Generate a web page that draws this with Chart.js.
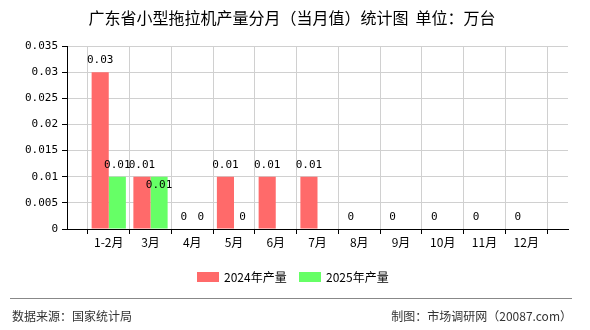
<!DOCTYPE html>
<html>
<head>
<meta charset="utf-8">
<script src="https://cdn.jsdelivr.net/npm/chart.js@4.4.0/dist/chart.umd.min.js"></script>
<style>
  body { margin: 0; background: #fff; }
  #wrap { width: 590px; height: 330px; }
</style>
</head>
<body>
<div id="wrap"><canvas id="myChart" width="590" height="330"></canvas></div>
<script>
// months, padded with an empty slot each side so ticks sit on gridlines
const months = ['', '1-2月', '3月', '4月', '5月', '6月', '7月', '8月', '9月', '10月', '11月', '12月', '']
const output2024 = [null, 0.03, 0.01, 0, 0.01, 0.01, 0.01, 0, 0, 0, 0, 0, null]
const output2025 = [null, 0.01, 0.01, 0, 0, null, null, null, null, null, null, null, null]
const yTicks = [0, 0.005, 0.01, 0.015, 0.02, 0.025, 0.03, 0.035]

const titleText = '广东省小型拖拉机产量分月（当月值）统计图  单位：万台'
const sourceText = '数据来源：国家统计局'
const makerText = '制图：市场调研网（20087.com）'

const cjk = '"Noto Sans CJK SC", sans-serif'
const tickFont = '"DejaVu Sans Mono", "Noto Sans CJK SC", monospace'

// title, value labels, legend and footer
const extras = {
  id: 'extras',
  afterDatasetsDraw(chart) {
    const ctx = chart.ctx
    ctx.save()
    ctx.font = '11px ' + tickFont
    ctx.fillStyle = '#000'
    ctx.textAlign = 'center'
    ctx.textBaseline = 'middle'
    let boxes = []
    chart.data.datasets.forEach((ds, di) => {
      const meta = chart.getDatasetMeta(di)
      meta.data.forEach((bar, i) => {
        const v = ds.data[i]
        if (v === null || v === undefined) return
        const txt = String(v)
        const w = ctx.measureText(txt).width
        let y = bar.y - 12
        const x = bar.x
        const hit = boxes.some(b => Math.abs(b.y - y) < 10 && Math.min(b.x + b.w / 2, x + w / 2) - Math.max(b.x - b.w / 2, x - w / 2) > 4)
        if (hit) y = bar.y + 8
        boxes.push({x: x, y: y, w: w})
        ctx.fillText(txt, x, y)
      })
    })
    ctx.restore()
  },
  afterDraw(chart) {
    const ctx = chart.ctx
    ctx.save()
    ctx.fillStyle = '#000'
    ctx.textBaseline = 'middle'
    ctx.textAlign = 'center'
    ctx.font = '16px ' + cjk
    ctx.fillText(titleText, 292, 18)

    // legend
    ctx.font = '12px ' + cjk
    ctx.textAlign = 'left'
    let lx = 197
    chart.data.datasets.forEach(ds => {
      ctx.fillStyle = ds.backgroundColor
      ctx.fillRect(lx, 272, 22, 10)
      ctx.fillStyle = '#000'
      ctx.fillText(ds.label, lx + 27, 277)
      lx += 102
    })

    // footer
    ctx.strokeStyle = '#888'
    ctx.lineWidth = 1
    ctx.beginPath()
    ctx.moveTo(10, 298.5)
    ctx.lineTo(572, 298.5)
    ctx.stroke()
    ctx.fillStyle = '#333'
    ctx.font = '12px ' + cjk
    ctx.textAlign = 'left'
    ctx.fillText(sourceText, 12, 316)
    ctx.textAlign = 'right'
    ctx.fillText(makerText, 572, 316)
    ctx.restore()
  }
}

const ctx = document.getElementById('myChart')
new Chart(ctx, {
  type: 'bar',
  data: {
    labels: months,
    datasets: [{
      label: '2024年产量',
      data: output2024,
      backgroundColor: '#ff6a6a',
      categoryPercentage: 0.82,
      barPercentage: 1
    },
    {
      label: '2025年产量',
      data: output2025,
      backgroundColor: '#66ff66',
      categoryPercentage: 0.82,
      barPercentage: 1
    }]
  },
  options: {
    responsive: false,
    animation: false,
    layout: { padding: { left: 0, right: 22, top: 46, bottom: 81 } },
    plugins: {
      legend: { display: false },
      tooltip: { enabled: false }
    },
    scales: {
      x: {
        offset: false,
        grid: { color: '#d0d0d0', tickColor: '#000', tickLength: 5 },
        border: { color: '#000' },
        ticks: { color: '#000', font: { size: 12, family: cjk }, maxRotation: 0, autoSkip: false, padding: 1 },
        afterFit(scale) { scale.height = 20 }
      },
      y: {
        min: 0,
        max: 0.035,
        afterBuildTicks(scale) { scale.ticks = yTicks.map(v => ({value: v})) },
        grid: { color: '#d0d0d0', tickColor: '#000', tickLength: 5 },
        border: { color: '#000' },
        ticks: { color: '#000', font: { size: 11, family: tickFont }, padding: 4,
          callback: v => String(Number(v.toFixed(3))) },
        afterFit(scale) { scale.width = 67 }
      }
    }
  },
  plugins: [extras]
})
</script>
</body>
</html>
